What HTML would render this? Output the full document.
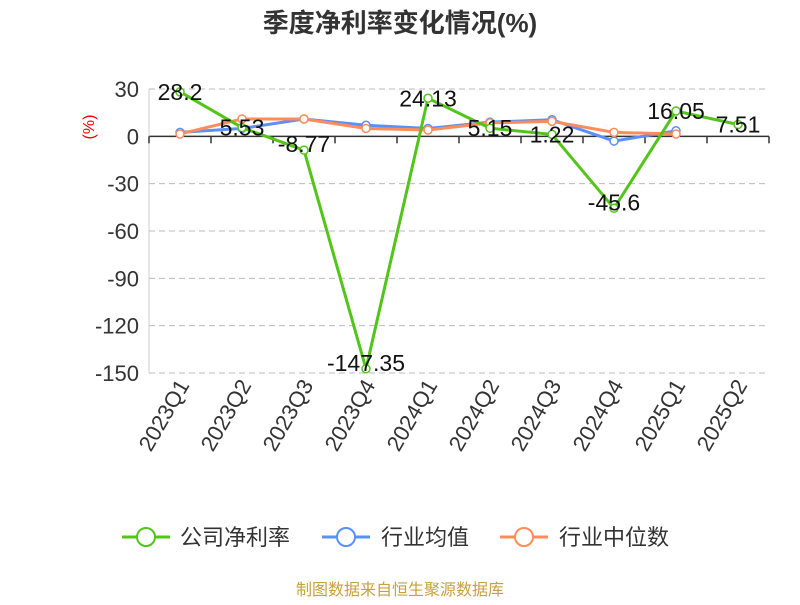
<!DOCTYPE html>
<html><head><meta charset="utf-8"><style>
body{margin:0;background:#fff;font-family:"Liberation Sans","Noto Sans CJK SC",sans-serif}
</style></head><body>
<svg id="c" width="800" height="600" xmlns="http://www.w3.org/2000/svg">
<text x="400" y="32" text-anchor="middle" font-size="26" font-weight="bold" fill="#333" font-family="Liberation Sans,Noto Sans CJK SC,sans-serif">季度净利率变化情况(%)</text>
<text transform="translate(94,127) rotate(-90)" text-anchor="middle" font-size="16" fill="#e00">(%)</text>
<g id="grid"></g><g id="series"></g>
<g font-size="22" fill="#333" font-family="Liberation Sans,Noto Sans CJK SC,sans-serif">
<g><line x1="122" y1="537" x2="170" y2="537" stroke="#52c41a" stroke-width="3"/><circle cx="146" cy="537" r="9" fill="#fff" stroke="#52c41a" stroke-width="2"/><text x="180" y="545">公司净利率</text></g>
<g><line x1="322" y1="537" x2="370" y2="537" stroke="#5b8ff9" stroke-width="3"/><circle cx="346" cy="537" r="9" fill="#fff" stroke="#5b8ff9" stroke-width="2"/><text x="381" y="545">行业均值</text></g>
<g><line x1="500" y1="537" x2="548" y2="537" stroke="#ff8c5a" stroke-width="3"/><circle cx="524" cy="537" r="9" fill="#fff" stroke="#ff8c5a" stroke-width="2"/><text x="559" y="545">行业中位数</text></g>
</g>
<text x="400" y="595" text-anchor="middle" font-size="16" fill="#c8a03c" font-family="Liberation Sans,Noto Sans CJK SC,sans-serif">制图数据来自恒生聚源数据库</text>
</svg>
<script>
const categories=["2023Q1","2023Q2","2023Q3","2023Q4","2024Q1","2024Q2","2024Q3","2024Q4","2025Q1","2025Q2"];
const company=[28.2,5.53,-8.77,-147.35,24.13,5.15,1.22,-45.6,16.05,7.51];
const mean=[2.5,5,11,7,5,9,10.5,-3,3.5];
const median=[1.5,11,11,5,4,8.5,9.5,2.5,1.5];
const ticks=[30,0,-30,-60,-90,-120,-150];
const NS="http://www.w3.org/2000/svg";
const L=149,R=769,T=89,B=373;
const y=v=>T+(30-v)/180*(B-T);
const bw=(R-L)/categories.length;
const x=i=>L+bw*(i+0.5);
function mk(p,t,a){const e=document.createElementNS(NS,t);for(const k in a)e.setAttribute(k,a[k]);p.appendChild(e);return e;}
const g=document.getElementById('grid'),s=document.getElementById('series');
ticks.forEach(t=>{
 if(t!==0){const l=mk(g,'line',{x1:L,x2:R,y1:y(t),y2:y(t),stroke:'#bbb','stroke-dasharray':'6,4'});
 
 }
 const tx=mk(g,'text',{x:L-10,y:y(t)+8,'text-anchor':'end','font-size':22,fill:'#333'});tx.textContent=t;
 
 
});
const ax=mk(g,'line',{x1:L,x2:R,y1:y(0),y2:y(0),stroke:'#333','stroke-width':1.5});


const yl=mk(g,'line',{x1:L,x2:L,y1:T,y2:B,stroke:'#ccc'});


for(let i=0;i<=categories.length;i++){mk(g,'line',{x1:L+bw*i,x2:L+bw*i,y1:y(0),y2:y(0)+7,stroke:'#333','stroke-width':1.5});}
categories.forEach((c,i)=>{const t=mk(g,'text',{transform:`translate(${x(i)+10},${B+12}) rotate(-60)`,'text-anchor':'end','font-size':22,fill:'#333'});t.textContent=c;
 
 });
function line(d,col,name){
 const p=mk(s,'polyline',{points:d.map((v,i)=>x(i)+','+y(v)).join(' '),fill:'none',stroke:col,'stroke-width':3});
 
 
 d.forEach((v,i)=>{const c=mk(s,'circle',{cx:x(i),cy:y(v),r:4,fill:'#fff',stroke:col,'stroke-width':1.5});
  
  });
}
line(mean,'#5b8ff9','mean');
line(median,'#ff8c5a','median');
line(company,'#52c41a','company');
company.forEach((v,i)=>{const t=mk(s,'text',{x:x(i),y:y(v)+(v<0?2:8),'text-anchor':'middle','font-size':23,fill:'#111'});t.textContent=v;
 
 });
</script>
</body></html>
